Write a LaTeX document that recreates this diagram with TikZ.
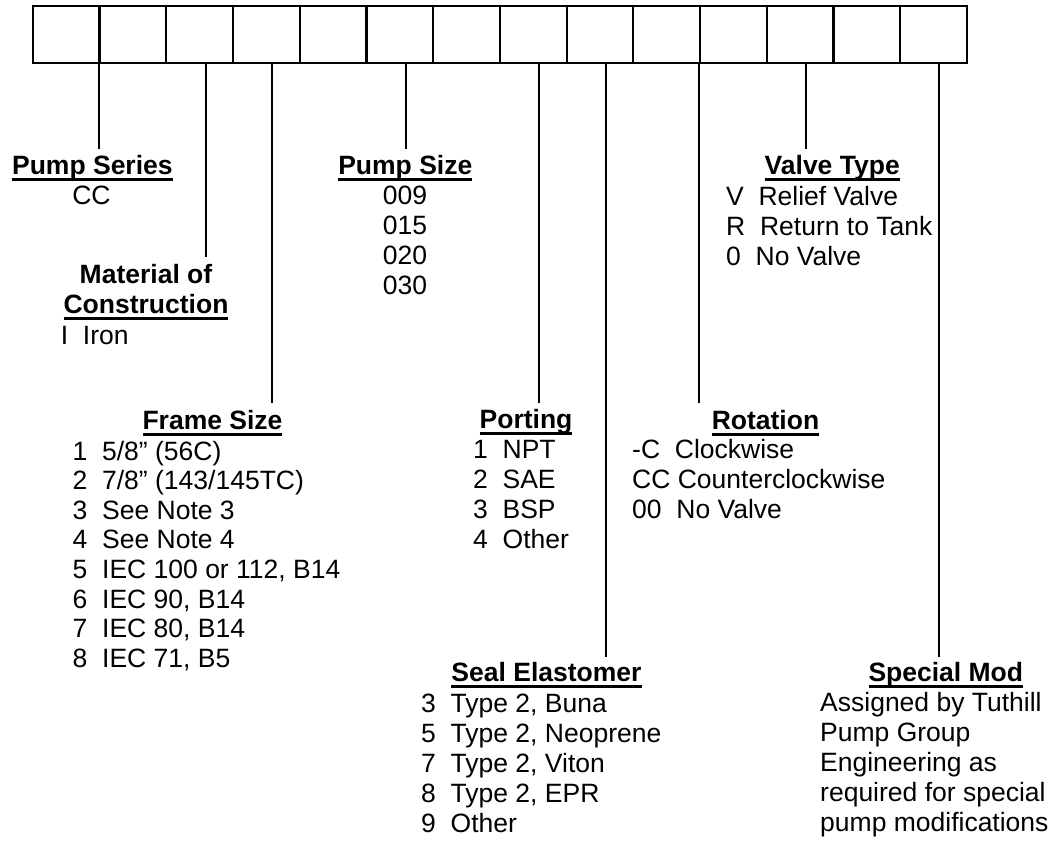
\documentclass[tikz,border=0pt]{standalone}
\usepackage{fontspec}
\setmainfont{Liberation Sans}
\newsavebox\hdbox
\newcommand\hdul[1]{\sbox\hdbox{#1}\rlap{\rule[-6.3pt]{\wd\hdbox}{3pt}}\usebox\hdbox}
\newcommand\twosp{\ \ }
\begin{document}
\begin{tikzpicture}[x=1pt,y=-1pt,
  txt/.style={inner sep=0pt, font=\fontsize{26.5}{30}\selectfont},
  head/.style={inner sep=0pt, font=\fontsize{26.5}{30}\selectfont\bfseries, anchor=base},
  items/.style={txt, anchor=base west},
  citems/.style={txt, anchor=base},
  cbox/.style={draw, line width=2.2pt, minimum width=66.73pt, minimum height=56.8pt, inner sep=0pt, anchor=north west},
  conn/.style={line width=2pt}]
\useasboundingbox (0,0) rectangle (1054,842);
\foreach \i in {1,...,14} { \node[cbox] (b\i) at ({31.7+(\i-1)*66.73}, 5.2) {}; }

% connector coordinates
\coordinate (s1) at (98.8,62);   \coordinate (e1) at (98.8,149.3);
\coordinate (s2) at (205.5,62);  \coordinate (e2) at (205.5,257.3);
\coordinate (s3) at (272,62);    \coordinate (e3) at (272,403.3);
\coordinate (s4) at (406,62);    \coordinate (e4) at (406,149.3);
\coordinate (s5) at (539,62);    \coordinate (e5) at (539,403.3);
\coordinate (s6) at (605.7,62);  \coordinate (e6) at (605.7,657.3);
\coordinate (s7) at (699,62);    \coordinate (e7) at (699,403.3);
\coordinate (s8) at (805.7,62);  \coordinate (e8) at (805.7,149.3);
\coordinate (s9) at (939,62);    \coordinate (e9) at (939,657.3);
\foreach \i in {1,...,9} { \draw[conn] (s\i) -- (e\i); }

% Pump Series
\node[head] (hps) at (92.4,175) {\hdul{Pump Series}};
\node[citems] (ips) at (91.4,204.5) {CC};

% Material of Construction
\node[head] (hmc) at (146,283.3) {\begin{tabular}[t]{@{}c@{}}Material of\\ \hdul{Construction}\end{tabular}};
\node[items] (imc) at (60.7,344.5) {I\twosp Iron};

% Frame Size
\node[head] (hfs) at (212.5,429.5) {\hdul{Frame Size}};
\node[items] (ifs) at (72.5,460.3) {\renewcommand\arraystretch{0.985}\begin{tabular}[t]{@{}l@{}}
1\twosp 5/8” (56C)\\
2\twosp 7/8” (143/145TC)\\
3\twosp See Note 3\\
4\twosp See Note 4\\
5\twosp IEC 100 or 112, B14\\
6\twosp IEC 90, B14\\
7\twosp IEC 80, B14\\
8\twosp IEC 71, B5\end{tabular}};

% Pump Size
\node[head] (hpz) at (405.3,174.7) {\hdul{Pump Size}};
\node[citems] (ipz) at (405,204.5) {\begin{tabular}[t]{@{}c@{}}009\\015\\020\\030\end{tabular}};

% Porting
\node[head] (hpo) at (526,428.7) {\hdul{Porting}};
\node[items] (ipo) at (473,458.7) {\begin{tabular}[t]{@{}l@{}}
1\twosp NPT\\
2\twosp SAE\\
3\twosp BSP\\
4\twosp Other\end{tabular}};

% Seal Elastomer
\node[head] (hse) at (546.5,681.7) {\hdul{Seal Elastomer}};
\node[items] (ise) at (421,712.7) {\begin{tabular}[t]{@{}l@{}}
3\twosp Type 2, Buna\\
5\twosp Type 2, Neoprene\\
7\twosp Type 2, Viton\\
8\twosp Type 2, EPR\\
9\twosp Other\end{tabular}};

% Rotation
\node[head] (hro) at (765.5,429.3) {\hdul{Rotation}};
\node[items] (iro) at (632,458.7) {\begin{tabular}[t]{@{}l@{}}
-C\twosp Clockwise\\
CC Counterclockwise\\
00\twosp No Valve\end{tabular}};

% Valve Type
\node[head] (hvt) at (832.2,175) {\hdul{Valve Type}};
\node[items] (ivt) at (726,205.5) {\begin{tabular}[t]{@{}l@{}}
V\twosp Relief Valve\\
R\twosp Return to Tank\\
0\twosp No Valve\end{tabular}};

% Special Mod
\node[head] (hsm) at (945.8,681.7) {\hdul{Special Mod}};
\node[items] (ism) at (820,711.7) {\begin{tabular}[t]{@{}l@{}}
Assigned by Tuthill\\
Pump Group\\
Engineering as\\
required for special\\
pump modifications\end{tabular}};
\end{tikzpicture}
\end{document}
